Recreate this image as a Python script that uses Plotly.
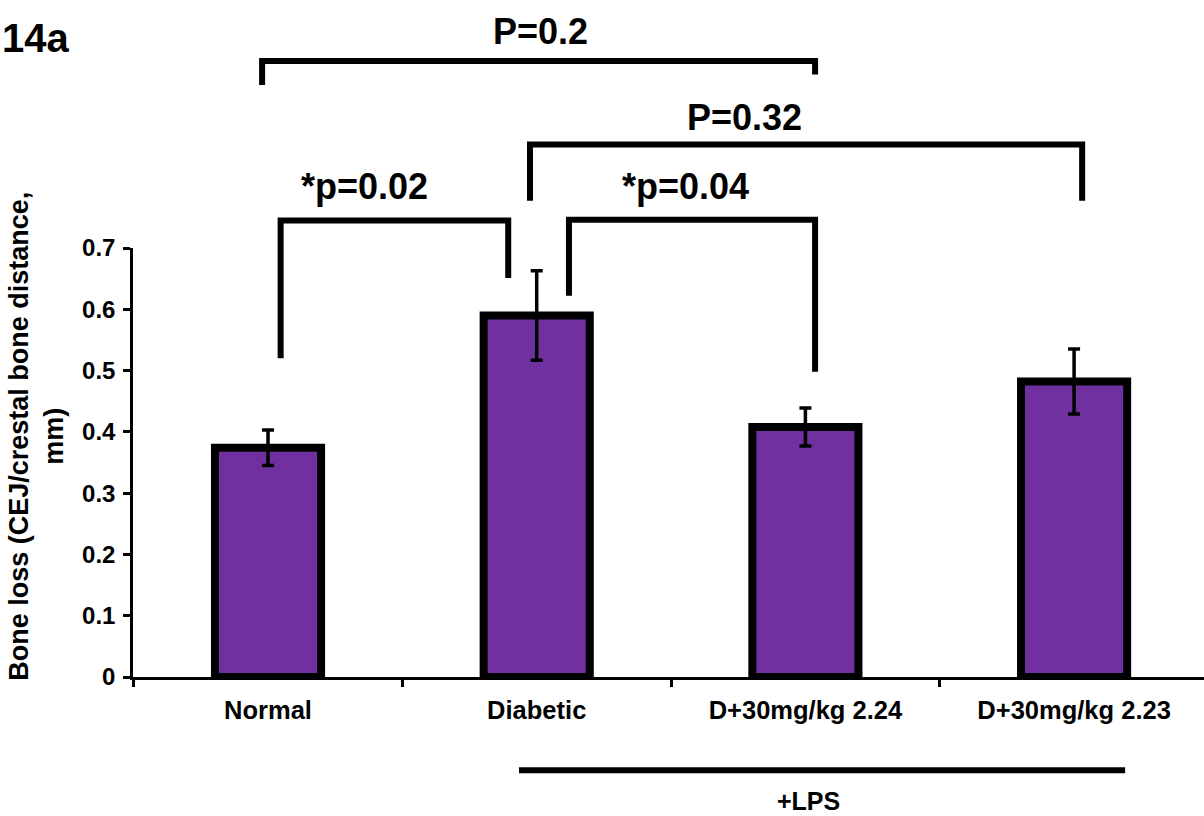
import plotly.graph_objects as go

# Groups and measured bone loss (mean ± SEM)
groups = ["Normal", "Diabetic", "D+30mg/kg 2.24", "D+30mg/kg 2.23"]
bone_loss = [0.374, 0.590, 0.408, 0.482]
sem = [0.029, 0.073, 0.031, 0.053]

y_ticks = [0, 0.1, 0.2, 0.3, 0.4, 0.5, 0.6, 0.7]

# Significance brackets: (left position, right position in group units,
# bar height, left leg end, right leg end, label)
brackets = [
    (-0.022, 2.036, 1.005, 0.966, 0.983, "P=0.2"),
    (0.975, 3.030, 0.869, 0.777, 0.777, "P=0.32"),
    (0.047, 0.894, 0.745, 0.520, 0.651, "*p=0.02"),
    (1.120, 2.036, 0.746, 0.622, 0.498, "*p=0.04"),
]
# label centre for each bracket (group units, data units)
bracket_label_x = [1.014, 1.775, 0.360, 1.552]
bracket_label_y = [1.053, 0.913, 0.801, 0.801]

# Treatment line underneath the groups
lps_span = (0.934, 3.190)
lps_line_y = -0.152
lps_label = "+LPS"
lps_label_pos = (2.010, -0.202)

X_RANGE = [-0.5025, 3.4835]
Y_RANGE = [0, 0.7]
FONT = "Liberation Sans, Arial, sans-serif"
PURPLE = "#7030A0"


def px(i):
    return (i - X_RANGE[0]) / (X_RANGE[1] - X_RANGE[0])


def py(v):
    return (v - Y_RANGE[0]) / (Y_RANGE[1] - Y_RANGE[0])


def bold(size):
    return dict(family=FONT, size=size, color="black", weight="bold")


fig = go.Figure(
    go.Bar(
        x=groups,
        y=bone_loss,
        width=0.395,
        marker=dict(color=PURPLE, line=dict(color="black", width=8)),
        error_y=dict(type="data", array=sem, visible=True,
                     color="black", thickness=3.5, width=6),
    )
)

shapes = []
annotations = []
line_style = dict(color="black", width=6)
for (x0, x1, top, l_end, r_end, label), lx, ly in zip(brackets, bracket_label_x, bracket_label_y):
    path = (f"M {px(x0)},{py(l_end)} L {px(x0)},{py(top)} "
            f"L {px(x1)},{py(top)} L {px(x1)},{py(r_end)}")
    shapes.append(dict(type="path", xref="paper", yref="paper", path=path,
                       line=line_style))
    annotations.append(dict(xref="paper", yref="paper", x=px(lx), y=py(ly),
                            text=label, showarrow=False, xanchor="center",
                            yanchor="middle", font=bold(36)))

shapes.append(dict(type="line", xref="paper", yref="paper",
                   x0=px(lps_span[0]), x1=px(lps_span[1]),
                   y0=py(lps_line_y), y1=py(lps_line_y), line=line_style))
annotations.append(dict(xref="paper", yref="paper", x=px(lps_label_pos[0]),
                        y=py(lps_label_pos[1]), text=lps_label, showarrow=False,
                        xanchor="center", yanchor="middle", font=bold(25)))

# Panel label
annotations.append(dict(xref="paper", yref="paper", x=(0 - 133) / 1071,
                        y=(677.5 - 38) / 429.5, text="14a", showarrow=False,
                        xanchor="left", yanchor="middle", font=bold(40)))

# Y-axis title
annotations.append(dict(xref="paper", yref="paper", x=(37 - 133) / 1071,
                        y=(677.5 - 437) / 429.5,
                        text="Bone loss (CEJ/crestal bone distance,<br>mm)",
                        textangle=-90, showarrow=False, xanchor="center",
                        yanchor="middle", font=bold(27)))

fig.update_layout(
    width=1204, height=816,
    margin=dict(l=133, r=0, t=248, b=138.5, pad=0),
    paper_bgcolor="white", plot_bgcolor="white",
    showlegend=False,
    shapes=shapes,
    annotations=annotations,
    xaxis=dict(
        type="category", range=X_RANGE, tickson="boundaries",
        ticks="outside", ticklen=7, tickwidth=2.5, tickcolor="black",
        showline=True, linecolor="black", linewidth=2.5, showgrid=False,
        zeroline=False, tickfont=bold(25.5), ticklabelstandoff=9,
    ),
    yaxis=dict(
        range=Y_RANGE, tickmode="array", tickvals=y_ticks,
        ticktext=[f"{v:g}" for v in y_ticks], ticks="outside", ticklen=7,
        tickwidth=2.5, tickcolor="black", showline=True, linecolor="black",
        linewidth=2.5, showgrid=False, zeroline=False,
        tickfont=bold(24), ticklabelstandoff=3,
    ),
)

fig.write_html("out.html")
